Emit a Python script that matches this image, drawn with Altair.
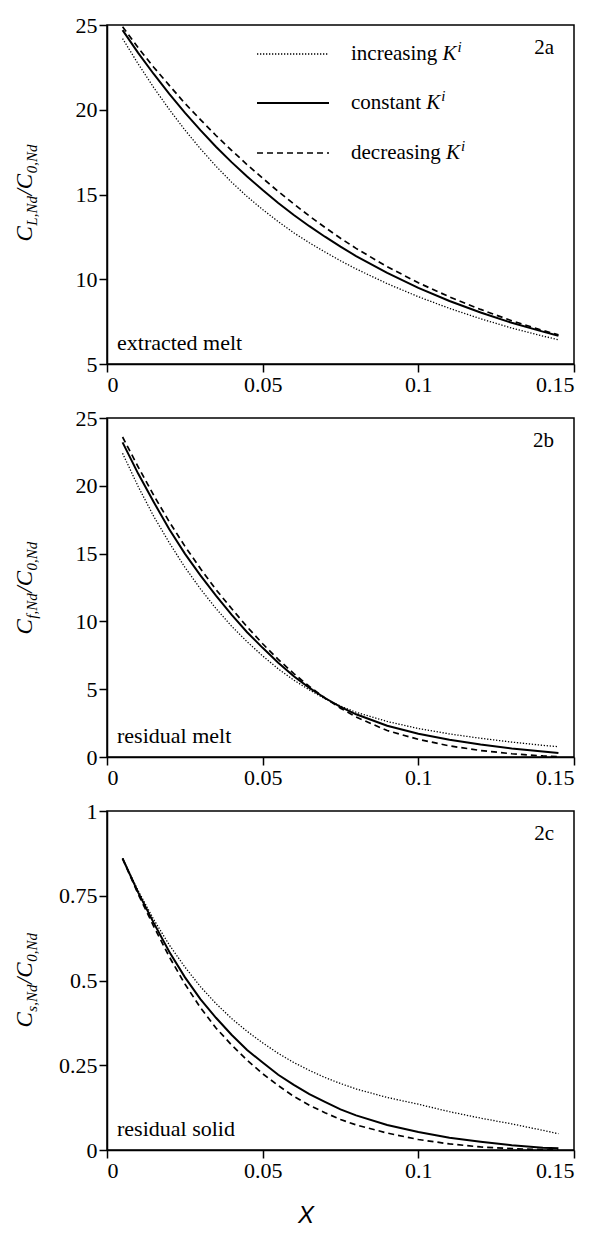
import altair as alt
import pandas as pd

# ---------------- data ----------------
x_vals = [0.005, 0.01, 0.015, 0.02, 0.025, 0.03, 0.035, 0.04, 0.045, 0.05, 0.055,
          0.06, 0.065, 0.07, 0.075, 0.08, 0.09, 0.1, 0.11, 0.12, 0.13, 0.14, 0.145]

series_names = ["increasing", "constant", "decreasing"]

# panel 2a: extracted melt
ext_inc = [24.2, 22.71, 21.31, 20.02, 18.81, 17.70, 16.67, 15.73, 14.88, 14.11, 13.40,
           12.74, 12.15, 11.61, 11.09, 10.61, 9.74, 8.97, 8.28, 7.67, 7.12, 6.65, 6.43]
ext_con = [24.7, 23.36, 22.11, 20.94, 19.83, 18.80, 17.82, 16.91, 16.06, 15.26, 14.50,
           13.79, 13.13, 12.51, 11.92, 11.37, 10.37, 9.49, 8.72, 8.04, 7.43, 6.91, 6.67]
ext_dec = [24.9, 23.66, 22.51, 21.44, 20.38, 19.42, 18.48, 17.61, 16.76, 15.96, 15.18,
           14.44, 13.73, 13.06, 12.42, 11.82, 10.74, 9.79, 8.96, 8.22, 7.55, 6.98, 6.72]

# panel 2b: residual melt
res_inc = [22.4, 19.95, 17.75, 15.8, 14.0, 12.4, 10.95, 9.65, 8.5, 7.45, 6.5,
           5.67, 4.95, 4.3, 3.75, 3.3, 2.62, 2.1, 1.7, 1.38, 1.1, 0.86, 0.76]
res_con = [23.2, 20.9, 18.8, 16.8, 15.0, 13.4, 11.9, 10.5, 9.2, 8.05, 6.95,
           5.95, 5.1, 4.35, 3.7, 3.15, 2.3, 1.72, 1.27, 0.92, 0.63, 0.4, 0.3]
res_dec = [23.6, 21.4, 19.3, 17.35, 15.55, 13.9, 12.35, 10.95, 9.6, 8.35, 7.2,
           6.15, 5.2, 4.35, 3.6, 2.95, 1.95, 1.3, 0.82, 0.48, 0.24, 0.08, 0.03]

# panel 2c: residual solid
sol_inc = [0.86, 0.765, 0.68, 0.605, 0.54, 0.482, 0.432, 0.388, 0.35, 0.316, 0.285,
           0.258, 0.235, 0.214, 0.196, 0.18, 0.155, 0.135, 0.113, 0.094, 0.077, 0.058, 0.048]
sol_con = [0.86, 0.76, 0.67, 0.585, 0.51, 0.445, 0.39, 0.34, 0.295, 0.258, 0.222,
           0.192, 0.165, 0.142, 0.12, 0.102, 0.074, 0.053, 0.036, 0.024, 0.014, 0.007, 0.005]
sol_dec = [0.86, 0.755, 0.66, 0.57, 0.49, 0.42, 0.36, 0.31, 0.265, 0.225, 0.19,
           0.158, 0.132, 0.11, 0.09, 0.074, 0.05, 0.031, 0.018, 0.009, 0.004, 0.001, 0.0]

x_ticks = [0, 0.05, 0.1, 0.15]
y_ticks_a = [5, 10, 15, 20, 25]
y_ticks_b = [0, 5, 10, 15, 20, 25]
y_ticks_c = [0, 0.25, 0.5, 0.75, 1]

# ---------------- styling ----------------
W = 467
H = 339
SERIF = "Liberation Serif"
FS = 22
LFS = 21

styles = {
    "increasing": dict(strokeDash=[1.3, 1.7], strokeWidth=1.3),
    "constant": dict(strokeWidth=2.0),
    "decreasing": dict(strokeDash=[6, 4], strokeWidth=1.7),
}

ROMAN = {'a': .444, 'b': .5, 'c': .444, 'd': .5, 'e': .444, 'g': .5, 'i': .278, 'n': .5,
         'o': .5, 'r': .333, 's': .389, 't': .278, ' ': .25, 'm': .778, 'l': .278, 'u': .5}
ITAL = {'C': .667, 'L': .556, 'N': .667, 'd': .5, 'f': .278, 's': .389, ',': .25,
        '/': .278, '0': .5, 'K': .667, 'i': .278}


def width(s, size, table):
    return sum(table.get(ch, .5) for ch in s) * size


def one():
    return pd.DataFrame({"a": [0]})


def txt(text, x, y, size=FS, italic=False, font=SERIF, align="left",
        baseline="alphabetic", angle=0):
    kw = dict(text=text, font=font, fontSize=size, align=align, baseline=baseline,
              color="black")
    if italic:
        kw["fontStyle"] = "italic"
    if angle:
        kw["angle"] = angle
    return alt.Chart(one()).mark_text(**kw).encode(x=alt.value(x), y=alt.value(y))


def ytitle(sub1, sub2):
    big, small = 23, 15
    xb, xs = -75, -70
    s = H / 2 + 47
    parts = []
    parts.append(txt("C", xb, s, big, True, angle=270))
    s -= width("C", big, ITAL) + 0.5
    parts.append(txt(sub1, xs, s, small, True, angle=270))
    s -= width(sub1, small, ITAL) + 0.5
    parts.append(txt("/", xb, s, big, True, angle=270))
    s -= width("/", big, ITAL)
    parts.append(txt("C", xb, s, big, True, angle=270))
    s -= width("C", big, ITAL) + 0.5
    parts.append(txt(sub2, xs, s, small, True, angle=270))
    return parts


def panel(inc, con, dec, ydomain, yticks, label, tag, sub1, legend=False, xtitle=False):
    rows = []
    for name, vals in zip(series_names, [inc, con, dec]):
        for xv, yv in zip(x_vals, vals):
            rows.append({"x": xv, "y": yv, "series": name})
    df = pd.DataFrame(rows)
    base = alt.Chart(df)
    xenc = alt.X("x:Q", scale=alt.Scale(domain=[0, 0.15], nice=False),
                 axis=alt.Axis(values=x_ticks, format=".2~f", title=None))
    yenc = alt.Y("y:Q", scale=alt.Scale(domain=ydomain, nice=False, zero=False),
                 axis=alt.Axis(values=yticks, format=".2~f", title=None))
    layers = []
    for name in series_names:
        layers.append(
            base.transform_filter(alt.datum.series == name)
            .mark_line(color="black", clip=True, **styles[name])
            .encode(x=xenc, y=yenc)
        )
    layers.append(txt(label, 10, H - 14, FS))
    layers.append(txt(tag, W - 20, 29, LFS, align="right"))
    layers += ytitle(sub1, "0,Nd")
    if legend:
        rows_y = [29, 78, 128]
        for name, ry in zip(series_names, rows_y):
            st = styles[name]
            layers.append(
                alt.Chart(one()).mark_rule(color="black", **st)
                .encode(x=alt.value(150), x2=alt.value(222), y=alt.value(ry))
            )
            word = name + " "
            layers.append(txt(word, 244, ry + 6, LFS))
            kx = 244 + width(word, LFS, ROMAN)
            layers.append(txt("K", kx, ry + 6, LFS, True))
            layers.append(txt("i", kx + width("K", LFS, ITAL) + 1, ry - 2, 15, True))
    if xtitle:
        layers.append(txt("X", 199, H + 66, 24, True, font="Liberation Sans",
                          align="center", baseline="middle"))
    return alt.layer(*layers).properties(width=W, height=H)


p1 = panel(ext_inc, ext_con, ext_dec, [5, 25], y_ticks_a, "extracted melt", "2a", "L,Nd",
           legend=True)
p2 = panel(res_inc, res_con, res_dec, [0, 25], y_ticks_b, "residual melt", "2b", "f,Nd")
p3 = panel(sol_inc, sol_con, sol_dec, [0, 1], y_ticks_c, "residual solid", "2c", "s,Nd",
           xtitle=True)

chart = (
    alt.vconcat(p1, p2, p3, spacing=10)
    .properties(padding={"left": 5, "top": 5, "right": 0, "bottom": 0},
                background="white")
    .configure_view(stroke="black", strokeWidth=1.5)
    .configure_axis(
        grid=False,
        domainColor="black", domainWidth=1.5,
        tickColor="black", tickWidth=1.5, tickSize=8,
        labelFont=SERIF, labelFontSize=FS, labelColor="black", labelPadding=2,
    )
)

chart.save("out.html", embed_options={"renderer": "svg", "actions": False})
